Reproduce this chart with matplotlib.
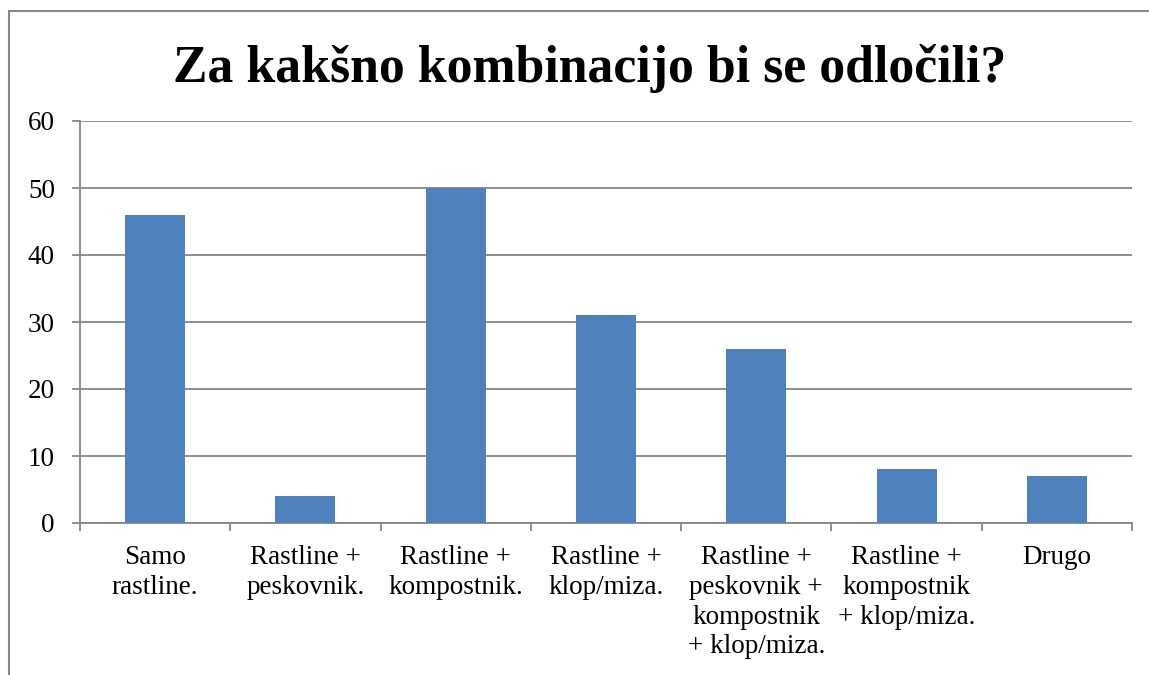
import matplotlib.pyplot as plt
from matplotlib.patches import Rectangle
import numpy as np

# data
categories = [
    "Samo\nrastline.",
    "Rastline +\npeskovnik.",
    "Rastline +\nkompostnik.",
    "Rastline +\nklop/miza.",
    "Rastline +\npeskovnik +\nkompostnik\n+ klop/miza.",
    "Rastline +\nkompostnik\n+ klop/miza.",
    "Drugo",
]
values = [46, 4, 50, 31, 26, 8, 7]
y_ticks = [0, 10, 20, 30, 40, 50, 60]

title = "Za kakšno kombinacijo bi se odločili?"
bar_color = "#4f81bd"
line_color = "#868686"

plt.rcParams['font.family'] = ['Liberation Serif', 'DejaVu Serif']

W, H = 1149, 675
fig = plt.figure(figsize=(W / 100, H / 100), dpi=100)

# outer chart border (cropped at right and bottom)
fig.patches.append(Rectangle((9 / W, -0.05), 1.1, 1 - 11 / H + 0.05,
                             transform=fig.transFigure, fill=False,
                             edgecolor=line_color, linewidth=1.5))

fig.text(590 / W, 1 - 82 / H, title, ha='center', va='baseline',
         fontsize=37.3, fontweight='bold')

# plot area in pixels: x 80..1132, y 121..523
ax = fig.add_axes([80 / W, 1 - 523 / H, (1132 - 80) / W, (523 - 121) / H])

x = np.arange(len(categories))
ax.bar(x, values, width=0.4, color=bar_color, zorder=3)

ax.set_xlim(-0.5, len(categories) - 0.5)
ax.set_ylim(0, 60)
ax.set_yticks(y_ticks)
ax.grid(axis='y', color=line_color, linewidth=1.3, zorder=0)

for s in ['top', 'right']:
    ax.spines[s].set_visible(False)
for s in ['left', 'bottom']:
    ax.spines[s].set_color(line_color)
    ax.spines[s].set_linewidth(1.3)

ax.set_xticks(x)
ax.set_xticklabels(categories, fontsize=19.5, linespacing=1.25)
ax.set_xticks(np.arange(len(categories) + 1) - 0.5, minor=True)
ax.tick_params(axis='x', which='major', length=0, pad=16)
ax.tick_params(axis='x', which='minor', length=6, color=line_color, width=1.3)
ax.tick_params(axis='y', length=6, color=line_color, width=1.3, pad=12,
               labelsize=19.5)

fig.savefig("out.png", dpi=100)
